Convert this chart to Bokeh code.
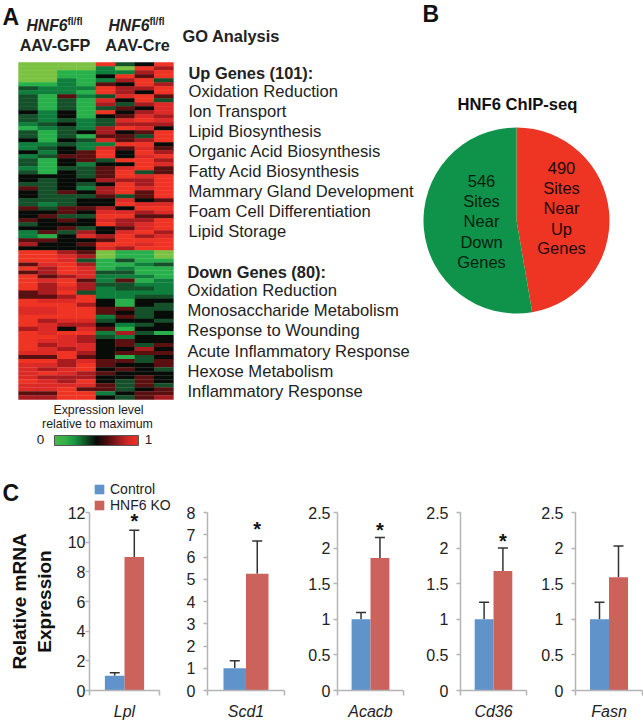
from bokeh.plotting import figure
from bokeh.layouts import column, row
from bokeh.models import (Range1d, LinearColorMapper, ColorBar, FixedTicker, Whisker, TeeHead,
                          ColumnDataSource, Legend, LegendItem)
from bokeh.core.properties import value
from bokeh.embed import file_html
from bokeh.resources import INLINE
import math

# ---------- data ----------
heat_up = [
 [0,0,0,0,8,3,4,8],[0,0,0,0,2,0,8,6],[0,0,1,1,2,2,6,8],[0,0,1,1,4,8,5,8],[0,0,2,1,2,6,8,3],
 [1,1,2,1,5,4,8,6],[3,2,2,2,8,6,6,8],[2,2,2,1,8,6,4,8],[3,1,5,2,3,7,8,5],[3,1,3,1,7,4,8,3],
 [3,1,3,1,6,3,6,7],[3,1,3,1,3,5,4,7],[4,2,4,1,8,4,6,7],[3,2,4,1,4,5,7,6],[3,2,3,2,3,7,8,7],
 [2,3,4,2,3,6,6,6],[1,2,3,2,6,8,7,4],[3,1,3,4,6,4,5,8],[3,1,3,1,5,5,3,8],[4,1,4,3,7,5,6,8],
 [2,2,3,2,2,8,8,4],[2,3,4,2,7,5,7,5],[4,2,4,5,8,4,8,6],[2,3,5,5,8,4,7,8],[3,1,4,5,3,8,8,6],
 [3,1,4,2,4,4,8,7],[2,1,3,3,5,7,8,5],[3,1,4,3,5,8,3,5],[4,4,4,3,5,8,7,8],[4,3,4,4,6,6,6,8],
 [3,3,4,3,4,8,6,8],[5,3,4,2,6,8,7,8],[4,3,5,4,6,8,5,8],[4,3,3,3,5,3,5,8],[3,3,3,4,4,7,4,5],
 [3,2,3,4,4,8,7,7],[5,3,5,5,6,4,8,8],[4,4,5,4,7,7,6,7],[4,5,3,3,8,8,5,5],[5,4,5,4,7,6,6,8],
 [3,4,4,4,8,6,7,8],[4,4,5,3,4,5,7,8],[2,5,3,6,4,7,8,6],[2,1,4,7,6,8,6,7],[5,5,4,4,5,8,8,8],
 [6,4,4,5,8,8,7,8],[4,4,4,4,7,6,8,8],
]
heat_down = [
 [8,8,6,5,0,1,1,0],[8,8,7,6,0,1,1,0],[8,8,7,3,1,3,1,1],[5,7,8,6,1,1,2,3],[8,6,8,7,1,2,1,1],
 [5,6,8,7,3,3,1,1],[8,5,6,7,2,2,2,1],[8,7,8,5,2,5,1,2],[8,6,8,6,3,3,2,2],[8,6,7,6,2,3,3,2],
 [5,6,8,3,2,2,2,2],[5,5,6,8,2,2,3,3],[8,7,7,8,4,1,4,4],[8,8,8,6,4,1,4,3],[7,7,8,8,5,5,3,3],
 [7,7,8,8,5,4,3,4],[8,8,8,8,2,5,3,4],[8,6,7,7,3,4,4,3],[8,7,6,6,4,2,3,4],[6,7,4,7,5,1,4,4],
 [8,7,8,8,2,6,3,1],[8,8,7,6,3,2,4,4],[8,7,7,6,4,5,4,4],[8,6,7,7,4,5,3,5],[8,7,6,7,4,4,6,4],
 [7,7,8,6,4,5,5,5],[5,5,8,5,4,1,3,4],[8,8,6,7,5,5,3,5],[7,7,6,8,5,4,4,5],[7,6,7,8,4,5,4,3],
 [7,8,7,6,5,4,4,4],[7,6,6,6,4,4,5,4],[8,7,6,8,4,3,5,4],[7,7,7,7,5,3,5,3],[7,7,8,5,5,3,4,5],
 [5,5,8,8,2,4,5,5],[6,6,8,8,4,3,5,6],
]
go_up_title = "Up Genes (101):"
go_up_terms = ["Oxidation Reduction", "Ion Transport", "Lipid Biosynthesis", "Organic Acid Biosynthesis",
               "Fatty Acid Biosynthesis", "Mammary Gland Development", "Foam Cell Differentiation", "Lipid Storage"]
go_down_title = "Down Genes (80):"
go_down_terms = ["Oxidation Reduction", "Monosaccharide Metabolism", "Response to Wounding",
                 "Acute Inflammatory Response", "Hexose Metabolism", "Inflammatory Response"]
pie_values = [490, 546]
pie_text_up = ["490", "Sites", "Near", "Up", "Genes"]
pie_text_down = ["546", "Sites", "Near", "Down", "Genes"]
genes = ["Lpl", "Scd1", "Acacb", "Cd36", "Fasn"]
control_mean = [1, 1, 1, 1, 1]
control_top = [1.2, 1.34, 1.097, 1.24, 1.24]
ko_mean = [9, 5.25, 1.86, 1.68, 1.59]
ko_top = [10.8, 6.72, 2.15, 2.0, 2.03]
y_max = [12, 8, 2.5, 2.5, 2.5]
y_ticks = [[0,2,4,6,8,10,12], [0,1,2,3,4,5,6,7,8], [0,.5,1,1.5,2,2.5], [0,.5,1,1.5,2,2.5], [0,.5,1,1.5,2,2.5]]
y_tick_labels = [["0","2","4","6","8","10","12"], ["0","1","2","3","4","5","6","7","8"],
                 ["0","0.5","1","1.5","2","2.5"], ["0","0.5","1","1.5","2","2.5"], ["0","0.5","1","1.5","2","2.5"]]
star_y = [11.4, 7.25, 2.25, 2.1, None]
legend_labels = ["Control", "HNF6 KO"]

# ---------- style / layout ----------
FONT = value("Liberation Sans")
INK = "#222222"
BLUE, BRICK = "#5f93c9", "#cc625c"
GREEN_P, RED_P = "#0f9249", "#ee3524"
stops = ["#7cc242", "#28b04b", "#0e7f3c", "#14502a", "#080c08", "#5a1010", "#a81c20", "#dc2a26", "#f03424"]
bar_stops = ["#47b749", "#35b049", "#17903f", "#0f4f24", "#0a0a0a", "#4a0c0c", "#8f181c", "#d02825", "#ee3124"]

def lerp_palette(cols, per=16):
    out = []
    rgb = [tuple(int(c[i:i+2], 16) for i in (1, 3, 5)) for c in cols]
    for a, b in zip(rgb, rgb[1:]):
        for k in range(per):
            t = k / per
            out.append("#%02x%02x%02x" % tuple(round(a[i] + (b[i] - a[i]) * t) for i in range(3)))
    out.append(cols[-1])
    return out

mapper = LinearColorMapper(palette=lerp_palette(stops), low=0, high=8)
bar_mapper = LinearColorMapper(palette=lerp_palette(bar_stops), low=0, high=1)

TOP_H = 512
ROW_Y = 480
top = figure(width=643, height=TOP_H, x_range=Range1d(0, 643), y_range=Range1d(TOP_H, 0),
             output_backend="svg", toolbar_location=None, x_axis_type=None, y_axis_type=None,
             min_border=0, outline_line_color=None)
top.grid.visible = False

def put(xs, ys, texts, size, style="normal", align="left", color=INK):
    top.text(xs, ys, text=texts, text_font=FONT, text_font_size=f"{size}px", text_font_style=style,
             text_align=align, text_baseline="middle", text_color=color)

# heatmap
HL, HW = 18, 155
def add_heat(rows, y0, y1):
    rh = (y1 - y0) / len(rows)
    cw = HW / 8
    xs, ys, vs = [], [], []
    for i, r in enumerate(rows):
        for j, v in enumerate(r):
            xs.append(HL + (j + .5) * cw); ys.append(y0 + (i + .5) * rh); vs.append(v)
    src = ColumnDataSource(dict(x=xs, y=ys, v=vs))
    top.rect("x", "y", width=cw + .3, height=rh + .3, source=src,
             fill_color={"field": "v", "transform": mapper}, line_color=None)
add_heat(heat_up, 62, 250)
add_heat(heat_down, 250, 399)

put([2], [16], ["A"], 23, "bold", color="#111111")
put([422], [13], ["B"], 23, "bold", color="#111111")
put([2], [492], ["C"], 23, "bold", color="#111111")
put([26, 108], [25, 25], ["HNF6", "HNF6"], 15.7, "bold italic")
put([67, 149], [21, 21], ["fl/fl", "fl/fl"], 10, "bold")
put([54.5, 137], [44, 44], ["AAV-GFP", "AAV-Cre"], 16.2, "bold", "center")
put([182], [35], ["GO Analysis"], 16.4, "bold")
put([188], [72], [go_up_title], 16.4, "bold")
put([188] * len(go_up_terms), [91 + 20 * i for i in range(len(go_up_terms))], go_up_terms, 16.6)
put([187], [271], [go_down_title], 16.4, "bold")
put([187] * len(go_down_terms), [290 + 20.2 * i for i in range(len(go_down_terms))], go_down_terms, 16.6)
put([98, 97], [409, 423], ["Expression level", "relative to maximum"], 12.4, align="center")
put([40, 148], [439, 439], ["0", "1"], 13.5, align="center")

cb = ColorBar(color_mapper=bar_mapper, orientation="horizontal", location=(54, TOP_H - 445), width=84, height=10,
              padding=0, margin=0, ticker=FixedTicker(ticks=[]), major_tick_line_color=None, minor_tick_line_color=None,
              bar_line_color="#555555", bar_line_width=1, background_fill_alpha=0, border_line_color=None)
top.add_layout(cb, "center")

# pie
PX, PY, PR = 516, 220, 93
put([517], [104], ["HNF6 ChIP-seq"], 16.6, "bold", "center", "#111111")
total = sum(pie_values)
a0 = math.pi / 2
angles = [a0]
for v in pie_values:
    angles.append(angles[-1] - 2 * math.pi * v / total)
top.wedge(PX, PY, radius=PR, start_angle=angles[0], end_angle=angles[1], direction="clock",
          fill_color=RED_P, line_color=None)
top.wedge(PX, PY, radius=PR, start_angle=angles[1], end_angle=angles[2], direction="clock",
          fill_color=GREEN_P, line_color=None)
put([561] * 5, [167, 187, 207, 228, 247], pie_text_up, 16.5, align="center", color="#200808")
put([481] * 5, [180, 200, 220, 241, 261], pie_text_down, 16.5, align="center", color="#052010")

# shared legend of panel C, drawn through key swatches in the figure that lies beneath the bar row
key1 = top.vbar([float("nan")], width=1, top=[float("nan")], bottom=0, fill_color=BLUE, line_color=None)
key2 = top.vbar([float("nan")], width=1, top=[float("nan")], bottom=0, fill_color=BRICK, line_color=None)
leg = Legend(items=[LegendItem(label=legend_labels[0], renderers=[key1]), LegendItem(label=legend_labels[1], renderers=[key2])],
             location=(93, -1), orientation="vertical", glyph_width=12, glyph_height=12, label_width=10,
             label_height=10, spacing=-4, padding=0, margin=0, label_standoff=5,
             background_fill_alpha=0, border_line_color=None, label_text_font="Liberation Sans",
             label_text_font_size="14px", label_text_color=INK)
top.add_layout(leg, "center")

# bars
# frame left, frame right, zero pixel, figure left, figure right, tick-label standoff
cfg = [(89, 159, 691, 0, 175, 0), (207, 284, 692, 175, 295, 8), (337, 403, 691, 295, 415, 3),
       (460, 526, 690, 415, 535, 8), (575, 642, 691, 535, 643, 8)]
axis_top = 512
bar_widths = [19.6, 22.5, 18.9, 18.8, 19.0]
figs = []
for i, g in enumerate(genes):
    fl, fr, z, gl, gr, so = cfg[i]
    span = (fr - fl) / bar_widths[i] / 2
    lo, hi = 1.5 - span, 1.5 + span
    p = figure(width=gr - gl, height=722 - ROW_Y, x_range=Range1d(lo, hi), y_range=Range1d(0, y_max[i]),
               output_backend="svg", toolbar_location=None, outline_line_color=None, frame_align=False,
               border_fill_alpha=0, background_fill_alpha=0,
               min_border_left=fl - gl, min_border_right=gr - fr, min_border_top=axis_top - ROW_Y,
               min_border_bottom=722 - z)
    p.grid.visible = False
    p.vbar([1], width=1, top=[control_mean[i]], bottom=0, fill_color=BLUE, line_color=None)
    p.vbar([2], width=1, top=[ko_mean[i]], bottom=0, fill_color=BRICK, line_color=None)
    for xpos, m, t in ((1, control_mean[i], control_top[i]), (2, ko_mean[i], ko_top[i])):
        src = ColumnDataSource(dict(x=[xpos], lower=[m], upper=[t]))
        p.add_layout(Whisker(base="x", lower="lower", upper="upper", source=src, dimension="height",
                             line_color="#333333", line_width=1.5,
                             upper_head=TeeHead(size=10, line_color="#333333", line_width=1.5), lower_head=None))
    if star_y[i] is not None:
        p.text([2], [star_y[i]], text=["*"], text_font=FONT, text_font_size="20px", text_font_style="bold",
               text_align="center", text_baseline="middle", text_color="#111111")
    ax = p.yaxis[0]
    ax.ticker = FixedTicker(ticks=y_ticks[i])
    ax.major_label_overrides = {t: l for t, l in zip(y_ticks[i], y_tick_labels[i])}
    ax.minor_tick_line_color = None
    ax.major_tick_in = 0
    ax.major_tick_out = 4
    ax.major_label_standoff = so
    ax.major_label_text_font = "Liberation Sans"
    ax.major_label_text_font_size = "16px"
    ax.major_label_text_color = INK
    ax.axis_line_color = "#b4b4b4"
    ax.major_tick_line_color = "#b4b4b4"
    ax.axis_line_width = 1.5
    ax.major_tick_line_width = 1.5
    xa = p.xaxis[0]
    xa.ticker = FixedTicker(ticks=[lo, hi])
    xa.major_label_overrides = {lo: "", hi: ""}
    xa.minor_tick_line_color = None
    xa.major_tick_in = 0
    xa.major_tick_out = 5
    xa.axis_line_color = "#b4b4b4"
    xa.major_tick_line_color = "#b4b4b4"
    xa.axis_line_width = 1.5
    xa.major_tick_line_width = 1.5
    xa.major_label_standoff = 0
    xa.major_label_text_font_size = "1px"
    xa.axis_label = g
    xa.axis_label_text_font = "Liberation Sans"
    xa.axis_label_text_font_style = "italic"
    xa.axis_label_text_font_size = "16px"
    xa.axis_label_text_color = INK
    xa.axis_label_standoff = 7
    if i == 0:
        ax.axis_label = "Relative mRNA\nExpression"
        ax.axis_label_text_font = "Liberation Sans"
        ax.axis_label_text_font_style = "bold"
        ax.axis_label_text_font_size = "19px"
        ax.axis_label_text_color = "#111111"
        ax.axis_label_standoff = 10
    figs.append(p)

bars = row(*figs, spacing=0, margin=(ROW_Y - TOP_H, 0, 0, 0))
page = column(top, bars, spacing=0)
open("out.html", "w").write(file_html(page, INLINE))
